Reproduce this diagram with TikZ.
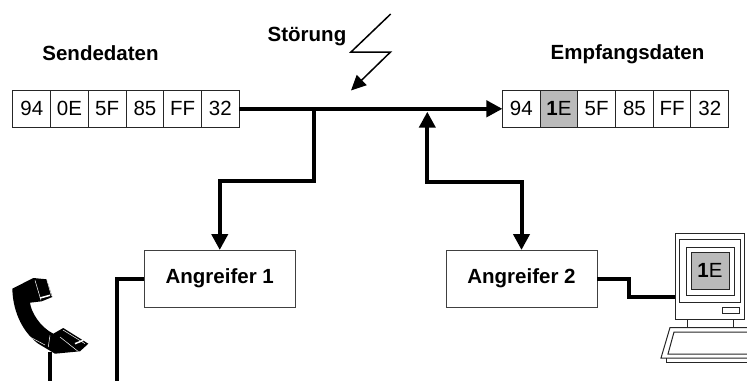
\documentclass[tikz,border=0pt]{standalone}
\usepackage{xcolor}
\usepackage{fontspec}
\setmainfont{Liberation Sans}
\usetikzlibrary{arrows.meta,positioning}

\tikzset{
    zelle/.style={draw=black!85, line width=1pt, minimum width=37.7pt, minimum height=37pt, inner sep=0pt, outer sep=0pt, font=\fontsize{20.5}{22}\selectfont},
    kasten/.style={draw=black!75, line width=1pt, minimum width=151pt, minimum height=57pt, inner sep=0pt, outer sep=0pt, font=\fontsize{20.5}{22}\selectfont\bfseries},
    titel/.style={anchor=base, inner sep=0pt, font=\fontsize{20.5}{22}\selectfont\bfseries},
    dick/.style={line width=4pt},
    pfeil/.style={line width=4pt, -{Triangle[length=16pt,width=16pt]}},
    doppelpfeil/.style={line width=4pt, {Triangle[length=16pt,width=16pt]}-{Triangle[length=16pt,width=16pt]}},
    duenn/.style={draw=black!85, line width=1pt}
}

\begin{document}
\begin{tikzpicture}[x=1pt,y=-1pt]
    \useasboundingbox (0,0) rectangle (747,381);

    % Sendedaten
    \node[titel] (sendetitel) at (100.5,60) {Sendedaten};
    \node[zelle] (s1) at (31.8,108.8) {94};
    \node[zelle,right=0pt of s1] (s2) {0E};
    \node[zelle,right=0pt of s2] (s3) {5F};
    \node[zelle,right=0pt of s3] (s4) {85};
    \node[zelle,right=0pt of s4] (s5) {FF};
    \node[zelle,right=0pt of s5] (s6) {32};

    % Empfangsdaten
    \node[titel] (empfangstitel) at (627.5,59.5) {Empfangsdaten};
    \node[zelle] (e1) at (521.3,108.8) {94};
    \node[zelle,fill=black!27,right=0pt of e1] (e2) {\textbf{1}E};
    \node[zelle,right=0pt of e2] (e3) {5F};
    \node[zelle,right=0pt of e3] (e4) {85};
    \node[zelle,right=0pt of e4] (e5) {FF};
    \node[zelle,right=0pt of e5] (e6) {32};

    % Angreifer
    \node[kasten] (a1) at (219.75,278.5) {Angreifer 1};
    \node[kasten] (a2) at (521.5,278.5) {Angreifer 2};

    % Leitung
    \coordinate (abzweig1) at (314.3,108.8);
    \coordinate (abzweig2) at (427.3,111.7);
    \coordinate (a1ende) at (117,381);
    \coordinate (telefonoben) at (50,352);
    \coordinate (telefonunten) at (50,381);
    \coordinate (pcanschluss) at (675.5,297);

    \draw[pfeil] (s6.east) -- (e1.west);
    \draw[pfeil] (abzweig1) -- ++(0,71.9) -| (a1.north);
    \draw[doppelpfeil] (abzweig2) -- ++(0,70) -| (a2.north);
    \draw[dick] (a1.west) -| (a1ende);
    \draw[dick] (telefonoben) -- (telefonunten);
    \draw[dick] (a2.east) -- ++(32,0) |- (pcanschluss);

    % Stoerung
    \node[titel] (stoerung) at (307,41.7) {Störung};
    \coordinate (blitzoben) at (390.7,14);
    \coordinate (blitzlinks) at (351,52);
    \coordinate (blitzrechts) at (390.5,52);
    \coordinate (blitzspitze) at (351,90.5);
    \draw[line width=1.5pt, -{Triangle[length=15pt,width=14pt]}] (blitzoben) -- (blitzlinks) -- (blitzrechts) -- (blitzspitze);

    % Rechner
    \draw[duenn, fill=white] (675,233) rectangle (744,319);
    \draw[duenn] (679,239) rectangle (740,302);
    \draw[duenn] (686,247) rectangle (734,295);
    \draw[duenn, fill=black!27] (691,252) rectangle (729,289);
    \node[inner sep=0pt, font=\fontsize{20.5}{22}\selectfont] (bildschirm) at (710,270.5) {\textbf{1}E};
    \draw[duenn] (722,307) rectangle (739,313);
    \draw[duenn] (687,319) -- (687,327);
    \draw[duenn] (733,319) -- (733,327);
    \draw[duenn] (747,327.5) -- (670,327.5) -- (661,358) -- (747,358);
    \draw[duenn] (747,332) -- (674,332) -- (668,354) -- (747,354);
    \draw[duenn] (666,358) -- (666,362) -- (747,362);

    % Telefon
    \fill (12.3,288.7) -- (33.3,278) -- (46.7,279.3) -- (52.3,297) -- (41.7,301.3) -- (30,302.7)
        .. controls (31,312) and (40,327) .. (53.3,333.7) -- (63.3,328)
        -- (88.3,343.7) -- (80,351.3) -- (55,353.7) -- (38.3,343.7)
        .. controls (25,334) and (13,315) .. cycle;
    \draw[white, line width=0.5pt] (35,280.3) -- (41,300.3);
    \draw[white, line width=0.5pt] (46.7,279.3) -- (51.5,296);
    \draw[white, line width=1.5pt] (40,298) -- (50,295.3);
    \draw[white, line width=0.5pt] (50,335.3) -- (48.3,347);
    \draw[white, line width=0.5pt] (60,337) -- (78,351.3);
    \draw[white, line width=0.5pt] (63,330) -- (85,343.7);
    \draw[white, line width=0.5pt] (30,337) -- (45,345);
    \draw[white, line width=1.5pt] (75,343.7) -- (83.3,340.3);
\end{tikzpicture}
\end{document}
